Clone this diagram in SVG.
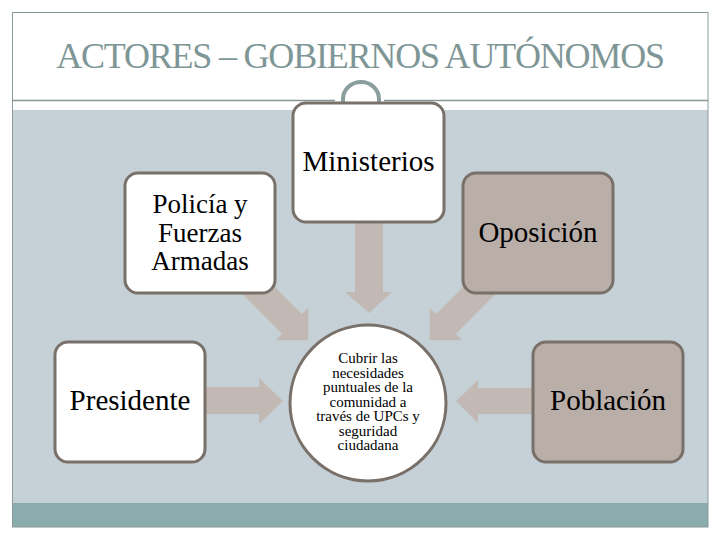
<svg xmlns="http://www.w3.org/2000/svg" width="720" height="540" viewBox="0 0 720 540">
<style>
.box{stroke:#787069;stroke-width:3}
.w{fill:#ffffff}
.b{fill:#b9aea8}
.lbl{font-family:"Liberation Serif","Times New Roman",serif;font-size:29px;fill:#000;text-anchor:middle}
.ml{font-size:27px}
.small{font-family:"Liberation Serif","Times New Roman",serif;font-size:15px;fill:#000;text-anchor:middle}
.arr{fill:#c2b9b4}
</style>
<rect x="0" y="0" width="720" height="540" fill="#ffffff"/>
<rect x="12.5" y="110" width="695.5" height="393" fill="#c5d1d7"/>
<rect x="12.5" y="503" width="695.5" height="24" fill="#8aacac"/>
<rect x="12.5" y="12.5" width="695.5" height="514.5" fill="none" stroke="#8a9a9a" stroke-width="1"/>
<g id="title">
<text x="360" y="68" font-family="Liberation Serif, serif" font-size="36" letter-spacing="-1.2" fill="#7e9696" text-anchor="middle">ACTORES – GOBIERNOS AUTÓNOMOS</text>
<path d="M12.5,100.5 H335 M384,100.5 H708" stroke="#8a9595" stroke-width="1.5" fill="none"/>
<path d="M343,104 V99 A18,17 0 0 1 379,99 V104" stroke="#8a9e9e" stroke-width="4" fill="none"/>
</g>
<g id="connectors">
<path class="arr" d="M355,215 H383 V292 H392 L369,313 L345,292 H355 Z"/>
<path class="arr" d="M205,387 H259 V378 L283,401 L259,424 V414 H205 Z"/>
<path class="arr" d="M533,388 H478 V380 L456,401 L478,423 V414 H533 Z"/>
<path class="arr" transform="rotate(45 292 324)" d="M212,310 H292 V301 L315,324 L292,347 V338 H212 Z"/>
<path class="arr" transform="rotate(135 446 324)" d="M366,310 H446 V301 L469,324 L446,347 V338 H366 Z"/>
</g>
<g id="ministerios">
<rect class="box w" x="293" y="103" width="151" height="119" rx="13"/>
<text class="lbl" x="368.5" y="171">Ministerios</text>
</g>
<g id="policia">
<rect class="box w" x="125" y="173" width="150" height="120" rx="13"/>
<text class="lbl ml" x="200" y="213">Policía y</text>
<text class="lbl ml" x="200" y="242">Fuerzas</text>
<text class="lbl ml" x="200" y="270">Armadas</text>
</g>
<g id="oposicion">
<rect class="box b" x="463" y="173" width="150" height="120" rx="13"/>
<text class="lbl" x="538" y="242">Oposición</text>
</g>
<g id="presidente">
<rect class="box w" x="55" y="342" width="150" height="120" rx="13"/>
<text class="lbl" x="130" y="410">Presidente</text>
</g>
<g id="poblacion">
<rect class="box b" x="533" y="342" width="150" height="120" rx="13"/>
<text class="lbl" x="608" y="410">Población</text>
</g>
<g id="centro">
<circle class="box w" cx="368" cy="403" r="78"/>
<text class="small" x="368" y="363">Cubrir las</text>
<text class="small" x="368" y="377.5">necesidades</text>
<text class="small" x="368" y="392">puntuales de la</text>
<text class="small" x="368" y="406.5">comunidad a</text>
<text class="small" x="368" y="421">través de UPCs y</text>
<text class="small" x="368" y="435.5">seguridad</text>
<text class="small" x="368" y="450">ciudadana</text>
</g>
</svg>
